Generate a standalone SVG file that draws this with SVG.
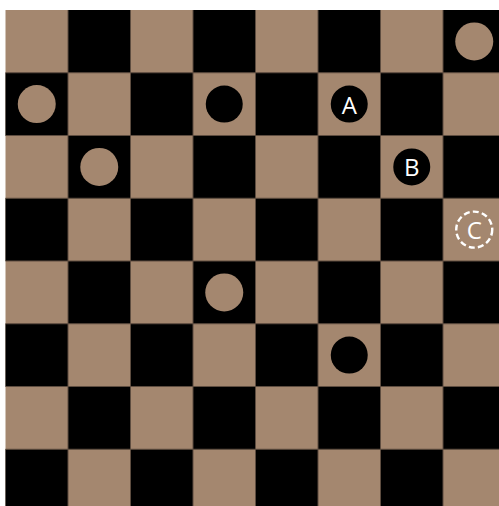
<svg xmlns="http://www.w3.org/2000/svg" width="499" height="506" viewBox="0 0 499 506">
<style>
.dark{fill:#000}
.grid{stroke:#5e4d40;stroke-width:1;fill:none}
.tanp{fill:#a4876f}
.blkp{fill:#000}
.lbl{font-family:"Open Sans","DejaVu Sans",sans-serif;font-size:24px;fill:#fff;text-anchor:middle;dominant-baseline:central}
.ring{fill:none;stroke:#fff;stroke-width:2.4;stroke-dasharray:6 3.2}
</style>
<rect width="499" height="506" fill="#fff"/>
<g id="board">
<rect x="5.5" y="10" width="500" height="502" fill="#a4876f"/>
<g class="dark">
<rect x="68" y="10" width="62.5" height="62.75"/><rect x="193" y="10" width="62.5" height="62.75"/><rect x="318" y="10" width="62.5" height="62.75"/><rect x="443" y="10" width="62.5" height="62.75"/>
<rect x="5.5" y="72.75" width="62.5" height="62.75"/><rect x="130.5" y="72.75" width="62.5" height="62.75"/><rect x="255.5" y="72.75" width="62.5" height="62.75"/><rect x="380.5" y="72.75" width="62.5" height="62.75"/>
<rect x="68" y="135.5" width="62.5" height="62.75"/><rect x="193" y="135.5" width="62.5" height="62.75"/><rect x="318" y="135.5" width="62.5" height="62.75"/><rect x="443" y="135.5" width="62.5" height="62.75"/>
<rect x="5.5" y="198.25" width="62.5" height="62.75"/><rect x="130.5" y="198.25" width="62.5" height="62.75"/><rect x="255.5" y="198.25" width="62.5" height="62.75"/><rect x="380.5" y="198.25" width="62.5" height="62.75"/>
<rect x="68" y="261" width="62.5" height="62.75"/><rect x="193" y="261" width="62.5" height="62.75"/><rect x="318" y="261" width="62.5" height="62.75"/><rect x="443" y="261" width="62.5" height="62.75"/>
<rect x="5.5" y="323.75" width="62.5" height="62.75"/><rect x="130.5" y="323.75" width="62.5" height="62.75"/><rect x="255.5" y="323.75" width="62.5" height="62.75"/><rect x="380.5" y="323.75" width="62.5" height="62.75"/>
<rect x="68" y="386.5" width="62.5" height="62.75"/><rect x="193" y="386.5" width="62.5" height="62.75"/><rect x="318" y="386.5" width="62.5" height="62.75"/><rect x="443" y="386.5" width="62.5" height="62.75"/>
<rect x="5.5" y="449.25" width="62.5" height="62.75"/><rect x="130.5" y="449.25" width="62.5" height="62.75"/><rect x="255.5" y="449.25" width="62.5" height="62.75"/><rect x="380.5" y="449.25" width="62.5" height="62.75"/>
</g>
<path class="grid" d="M68 10V506M130.5 10V506M193 10V506M255.5 10V506M318 10V506M380.5 10V506M443 10V506M5.5 72.75H499M5.5 135.5H499M5.5 198.25H499M5.5 261H499M5.5 323.75H499M5.5 386.5H499M5.5 449.25H499"/>
</g>
<g id="connectors"/>
<g id="piece-r0c7"><circle class="tanp" cx="474.25" cy="41.4" r="19"/></g>
<g id="piece-r1c0"><circle class="tanp" cx="36.75" cy="104.1" r="19"/></g>
<g id="piece-r1c3"><circle class="blkp" cx="224.25" cy="104.1" r="18.5"/></g>
<g id="piece-A"><circle class="blkp" cx="349.25" cy="104.1" r="18.5"/><text class="lbl" x="349.25" y="104.1">A</text></g>
<g id="piece-r2c1"><circle class="tanp" cx="99.25" cy="166.9" r="19"/></g>
<g id="piece-B"><circle class="blkp" cx="411.75" cy="166.9" r="18.5"/><text class="lbl" x="411.75" y="166.9">B</text></g>
<g id="piece-C"><circle class="ring" cx="474.25" cy="229.6" r="18"/><text class="lbl" x="474.25" y="229.6">C</text></g>
<g id="piece-r4c3"><circle class="tanp" cx="224.25" cy="292.4" r="19"/></g>
<g id="piece-r5c5"><circle class="blkp" cx="349.25" cy="355.1" r="18.5"/></g>
</svg>
